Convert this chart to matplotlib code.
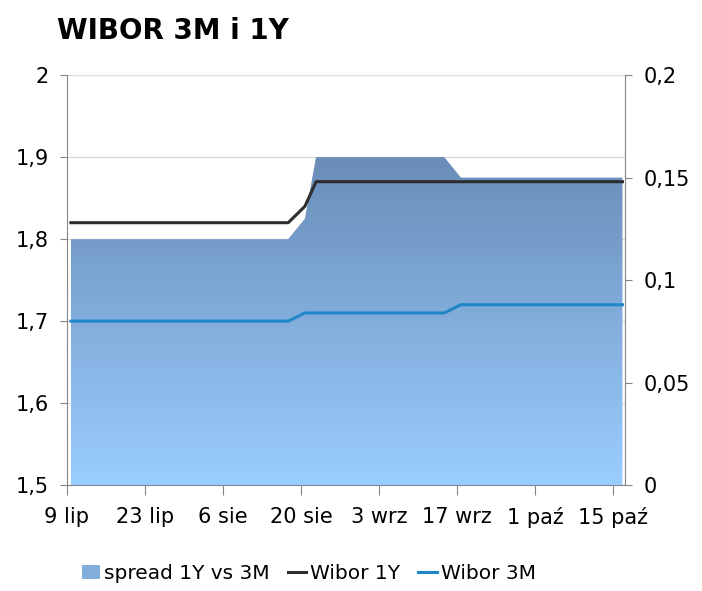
import numpy as np
import pandas as pd
import matplotlib
matplotlib.use("Agg")
from matplotlib import pyplot as plt
import matplotlib.dates as mdates
from matplotlib.colors import LinearSegmentedColormap
from matplotlib.patches import Patch
from matplotlib.lines import Line2D

# data (points where the series change)
dates = ["2012-07-09", "2012-08-17", "2012-08-20", "2012-08-22",
         "2012-09-14", "2012-09-17", "2012-10-16"]
wibor_1y = [1.82, 1.82, 1.84, 1.87, 1.87, 1.87, 1.87]
wibor_3m = [1.70, 1.70, 1.71, 1.71, 1.71, 1.72, 1.72]
spread = [0.12, 0.12, 0.13, 0.16, 0.16, 0.15, 0.15]

tick_dates = ["2012-07-09", "2012-07-23", "2012-08-06", "2012-08-20",
              "2012-09-03", "2012-09-17", "2012-10-01", "2012-10-15"]
tick_labels = ["9 lip", "23 lip", "6 sie", "20 sie", "3 wrz", "17 wrz",
               "1 paź", "15 paź"]
left_ticks = [1.5, 1.6, 1.7, 1.8, 1.9, 2.0]
left_labels = ["1,5", "1,6", "1,7", "1,8", "1,9", "2"]
right_ticks = [0, 0.05, 0.1, 0.15, 0.2]
right_labels = ["0", "0,05", "0,1", "0,15", "0,2"]

plt.rcParams['font.family'] = ['DejaVu Sans']
GRAY = "#868686"
C_1Y = "#2d2d2d"
C_3M = "#1f87c8"
C_TOP = "#6a8db8"
C_BOT = "#9acdff"

# excel draws the points a bit after the date tick
x = mdates.date2num(pd.to_datetime(dates) + pd.Timedelta(hours=17))
xt = mdates.date2num(pd.to_datetime(tick_dates))
x0 = xt[0]
x1 = x0 + 100.25

fig = plt.figure(figsize=(7.02, 5.91), dpi=100)
rect = [0.0954, 0.179, 0.7956, 0.694]

ax = fig.add_axes(rect)
ax.set_zorder(0)
ax2 = ax.twinx()
ax2.set_zorder(1)
ax3 = fig.add_axes(rect, sharex=ax, sharey=ax)
ax3.set_zorder(2)
ax3.axis("off")

# gridlines (behind the area)
ax.set_ylim(1.5, 2.0)
ax.set_yticks(left_ticks)
ax.set_yticklabels(left_labels)
ax.grid(axis="y", color="#dcdcdc", linewidth=1)
ax.set_axisbelow(True)

# spread area with vertical gradient
poly = ax2.fill_between(x, 0, spread, color="none", linewidth=0)
cmap = LinearSegmentedColormap.from_list("spr", [C_BOT, C_TOP])
grad = np.linspace(0, 1, 256).reshape(-1, 1)
im = ax2.imshow(grad, extent=[x[0], x[-1], 0, max(spread)], aspect="auto",
                cmap=cmap, origin="lower", interpolation="bicubic")
im.set_clip_path(poly.get_paths()[0], transform=ax2.transData)
ax2.set_ylim(0, 0.2)
ax2.set_yticks(right_ticks)
ax2.set_yticklabels(right_labels)

# lines on top
ax3.plot(x, wibor_1y, color=C_1Y, linewidth=2.2, solid_joinstyle="round")
ax3.plot(x, wibor_3m, color=C_3M, linewidth=2.2, solid_joinstyle="round")

ax.set_xlim(x0, x1)
ax.set_xticks(xt)
ax.set_xticklabels(tick_labels)

for a in (ax, ax2):
    for s in a.spines.values():
        s.set_color(GRAY)
    a.spines["top"].set_visible(False)
    a.tick_params(colors=GRAY, labelcolor="black", labelsize=15,
                  length=5, direction="out")
ax2.spines["left"].set_visible(False)
ax2.spines["bottom"].set_visible(False)
ax.spines["right"].set_visible(False)
ax.tick_params(axis="y", pad=8)
ax2.tick_params(axis="y", pad=8)
ax.tick_params(axis="x", length=7, pad=9)

fig.text(0.081, 0.948, "WIBOR 3M i 1Y", fontsize=20, fontweight="heavy",
         ha="left", va="center")

handles = [Patch(facecolor="#82aedc", edgecolor="none"),
           Line2D([], [], color=C_1Y, linewidth=2.2),
           Line2D([], [], color=C_3M, linewidth=2.2)]
fig.legend(handles, ["spread 1Y vs 3M", "Wibor 1Y", "Wibor 3M"],
           loc="center", bbox_to_anchor=(0.44, 0.03), ncol=3, frameon=False,
           fontsize=14.5, handlelength=0.9, handletextpad=0.2,
           columnspacing=0.9)

fig.savefig("out.png", dpi=100)
